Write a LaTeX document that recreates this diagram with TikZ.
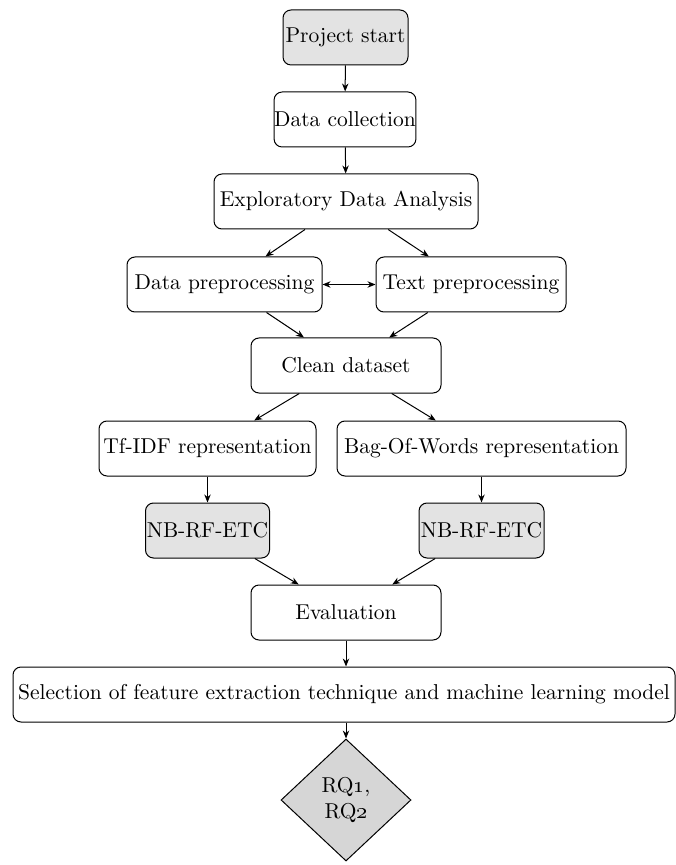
\documentclass[tikz,border=0pt]{standalone}
\usetikzlibrary{shapes.geometric,arrows.meta}
\begin{document}
\begin{tikzpicture}[x=0.5pt,y=-0.5pt,
  every node/.style={font=\fontsize{10.75}{12.9}\selectfont},
  box/.style={draw, rounded corners=4pt, line width=0.5pt, minimum height=27.5pt, inner sep=0pt},
  gbox/.style={box, fill=gray!22},
  dia/.style={draw, diamond, fill=gray!32, line width=0.5pt, inner sep=0pt, minimum width=65pt, minimum height=61pt, align=center},
  arr/.style={-{Stealth[length=4pt,width=3.2pt]}, line width=0.5pt},
  darr/.style={{Stealth[length=4pt,width=3.2pt]}-{Stealth[length=4pt,width=3.2pt]}, line width=0.5pt}]
\useasboundingbox (0,0) rectangle (675,865);
\node[gbox, minimum width=62.5pt] (ps) at (345.5,37.5) {Project start};
\node[box, minimum width=70pt] (dc) at (345,119.5) {Data collection};
\node[box, minimum width=132pt] (eda) at (346,201.5) {Exploratory Data Analysis};
\node[box, minimum width=97.5pt] (dp) at (224.5,284.5) {Data preprocessing};
\node[box, minimum width=95pt] (tp) at (471,284.5) {Text preprocessing};
\node[box, minimum width=95pt] (cd) at (346,365.5) {Clean dataset};
\node[box, minimum width=108.5pt] (tf) at (207.5,448.5) {Tf-IDF representation};
\node[box, minimum width=144.5pt] (bow) at (481.5,448.5) {Bag-Of-Words representation};
\node[gbox, minimum width=62pt] (nb1) at (207.5,530.5) {NB-RF-ETC};
\node[gbox, minimum width=62.5pt] (nb2) at (481.5,530.5) {NB-RF-ETC};
\node[box, minimum width=95pt] (ev) at (346,612.5) {Evaluation};
\node[box, minimum width=331pt] (sel) at (344,694.5) {Selection of feature extraction technique and machine learning model};
\node[dia] (rq) at (346,800) {RQ\oldstylenums{1},\\RQ\oldstylenums{2}};
\draw[arr] (ps) -- (dc);
\draw[arr] (dc) -- (eda);
\draw[arr] (eda) -- (dp);
\draw[arr] (eda) -- (tp);
\draw[darr] (dp) -- (tp);
\draw[arr] (dp) -- (cd);
\draw[arr] (tp) -- (cd);
\draw[arr] (cd) -- (tf);
\draw[arr] (cd) -- (bow);
\draw[arr] (tf) -- (nb1);
\draw[arr] (bow) -- (nb2);
\draw[arr] (nb1) -- (ev);
\draw[arr] (nb2) -- (ev);
\draw[arr] (ev) -- (ev |- sel.north);
\draw[arr] (sel.south -| rq.north) -- (rq);
\end{tikzpicture}
\end{document}
